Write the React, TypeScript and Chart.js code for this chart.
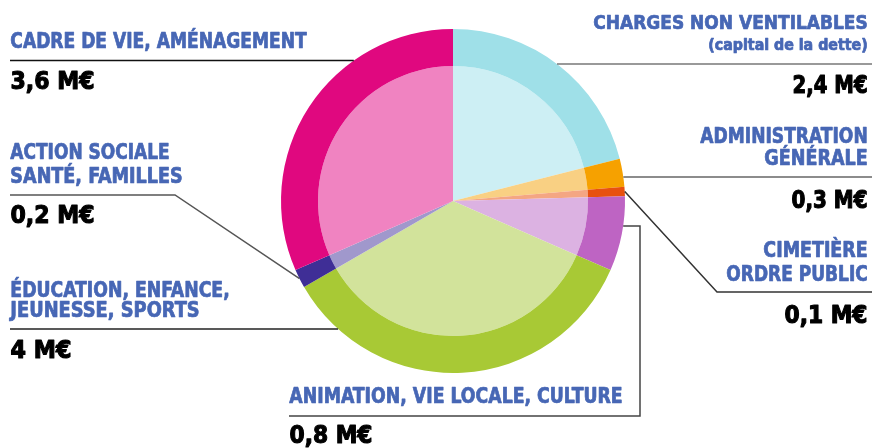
import React, { useEffect, useRef } from "react";
import { Chart, registerables } from "chart.js";

Chart.register(...registerables);

// ---- data ----
const categories = [
  "CHARGES NON VENTILABLES (capital de la dette)",
  "ADMINISTRATION GÉNÉRALE",
  "CIMETIÈRE ORDRE PUBLIC",
  "ANIMATION, VIE LOCALE, CULTURE",
  "ÉDUCATION, ENFANCE, JEUNESSE, SPORTS",
  "ACTION SOCIALE SANTÉ, FAMILLES",
  "CADRE DE VIE, AMÉNAGEMENT",
];
const amounts = [2.4, 0.3, 0.1, 0.8, 4, 0.2, 3.6];
const amountLabels = ["2,4 M€", "0,3 M€", "0,1 M€", "0,8 M€", "4 M€", "0,2 M€", "3,6 M€"];
const labelLines = [
  ["CHARGES NON VENTILABLES", "(capital de la dette)"],
  ["ADMINISTRATION", "GÉNÉRALE"],
  ["CIMETIÈRE", "ORDRE PUBLIC"],
  ["ANIMATION, VIE LOCALE, CULTURE"],
  ["ÉDUCATION, ENFANCE,", "JEUNESSE, SPORTS"],
  ["ACTION SOCIALE", "SANTÉ, FAMILLES"],
  ["CADRE DE VIE, AMÉNAGEMENT"],
];

// ---- styles ----
const outerColors = ["#9fe0e8", "#f6a100", "#e8510f", "#be64c3", "#a8c935", "#3f2e96", "#e0087f"];
const innerColors = ["#cdeff4", "#f9d083", "#f4a683", "#dcb2e2", "#d2e39b", "#a098cc", "#f083c1"];
const BLUE = "#4767b5";
const FONT = "'DejaVu Sans Condensed', 'DejaVu Sans', sans-serif";

type Layout = {
  align: "left" | "right";
  x: number;
  lines: { base: number; w: number; size: number }[];
  value: { base: number; w: number };
  leader: string;
  color: string;
};

const layout: Layout[] = [
  { align: "right", x: 868, lines: [{ base: 29, w: 275, size: 19.5 }, { base: 50, w: 160, size: 15 }], value: { base: 93, w: 76 }, leader: "hr:64", color: "#777" },
  { align: "right", x: 868, lines: [{ base: 143, w: 168, size: 20.5 }, { base: 165, w: 104, size: 20.5 }], value: { base: 208, w: 77 }, leader: "hr:177", color: "#666" },
  { align: "right", x: 868, lines: [{ base: 257, w: 105, size: 20.5 }, { base: 281, w: 142, size: 20.5 }], value: { base: 323, w: 84 }, leader: "cim", color: "#333" },
  { align: "left", x: 289, lines: [{ base: 403, w: 334, size: 20.5 }], value: { base: 443, w: 84 }, leader: "anim", color: "#444" },
  { align: "left", x: 10, lines: [{ base: 297, w: 220, size: 20.5 }, { base: 317, w: 190, size: 20.5 }], value: { base: 358, w: 62 }, leader: "hl:329", color: "#222" },
  { align: "left", x: 10, lines: [{ base: 159, w: 160, size: 20.5 }, { base: 183, w: 173, size: 20.5 }], value: { base: 223, w: 85 }, leader: "soc", color: "#555" },
  { align: "left", x: 10, lines: [{ base: 48, w: 297, size: 20.5 }], value: { base: 89, w: 85 }, leader: "hl:60.5", color: "#111" },
];

function drawFit(ctx: CanvasRenderingContext2D, text: string, x: number, base: number, w: number, size: number, color: string, align: "left" | "right", weight: number) {
  ctx.save();
  ctx.font = `bold ${size}px ${FONT}`;
  ctx.fillStyle = color;
  ctx.strokeStyle = color;
  ctx.lineJoin = "round";
  ctx.textBaseline = "alphabetic";
  ctx.textAlign = "left";
  const mw = ctx.measureText(text).width + weight;
  const sx = w / mw;
  const left = align === "left" ? x : x - w;
  ctx.translate(left + weight / 2, base);
  ctx.scale(sx, 1);
  ctx.fillText(text, 0, 0);
  if (weight > 0) {
    ctx.lineWidth = weight;
    ctx.strokeText(text, 0, 0);
  }
  ctx.restore();
}

const leaderPlugin = {
  id: "leaders",
  afterDraw(chart: any) {
    const ctx: CanvasRenderingContext2D = chart.ctx;
    const arcs = chart.getDatasetMeta(0).data as any[];
    const a0 = arcs[0];
    const cx = a0.x, cy = a0.y, R = a0.outerRadius;
    const edgeX = (y: number, side: number) => cx + side * Math.sqrt(Math.max(R * R - (y - cy) * (y - cy), 0));
    const mid = (i: number) => {
      const a = arcs[i];
      const m = (a.startAngle + a.endAngle) / 2;
      return [cx + R * Math.cos(m), cy + R * Math.sin(m)];
    };
    const W = chart.width;

    layout.forEach((L, i) => {
      ctx.save();
      ctx.strokeStyle = L.color;
      ctx.lineWidth = 1.5;
      ctx.beginPath();
      const [kind, arg] = L.leader.split(":");
      if (kind === "hr") {
        const y = parseFloat(arg);
        ctx.moveTo(edgeX(y, 1), y);
        ctx.lineTo(W, y);
      } else if (kind === "hl") {
        const y = parseFloat(arg);
        ctx.moveTo(10, y);
        ctx.lineTo(edgeX(y, -1), y);
      } else if (kind === "cim") {
        const [mx, my] = mid(i);
        ctx.moveTo(mx, my);
        ctx.lineTo(717, 292);
        ctx.lineTo(W, 292);
      } else if (kind === "anim") {
        ctx.moveTo(edgeX(226, 1), 226);
        ctx.lineTo(640, 226);
        ctx.lineTo(640, 416);
        ctx.lineTo(289, 416);
      } else if (kind === "soc") {
        const [mx, my] = mid(i);
        ctx.moveTo(10, 195);
        ctx.lineTo(175, 195);
        ctx.lineTo(mx, my);
      }
      ctx.stroke();
      ctx.restore();

      labelLines[i].forEach((t, k) => {
        const ln = L.lines[k];
        drawFit(ctx, t, L.x, ln.base, ln.w, ln.size, BLUE, L.align, 0.7);
      });
      drawFit(ctx, amountLabels[i], L.x, L.value.base, L.value.w, 25, "#000", L.align, 1.1);
    });
  },
};

export default function App() {
  const ref = useRef<HTMLCanvasElement>(null);
  useEffect(() => {
    if (!ref.current) return;
    const chart = new Chart(ref.current, {
      type: "pie",
      data: {
        labels: categories,
        datasets: [
          { data: amounts, backgroundColor: outerColors, borderWidth: 0, weight: 37 } as any,
          { data: amounts, backgroundColor: innerColors, borderWidth: 0, weight: 135 } as any,
        ],
      },
      options: {
        responsive: false,
        animation: false,
        events: [],
        layout: { padding: { left: 281, right: 247, top: 29, bottom: 75 } },
        plugins: { legend: { display: false }, tooltip: { enabled: false } },
      },
      plugins: [leaderPlugin],
    });
    return () => chart.destroy();
  }, []);
  return (
    <div style={{ position: "absolute", left: 0, top: 0, width: 872, height: 448, background: "#fff" }}>
      <canvas ref={ref} width={872} height={448} />
    </div>
  );
}
